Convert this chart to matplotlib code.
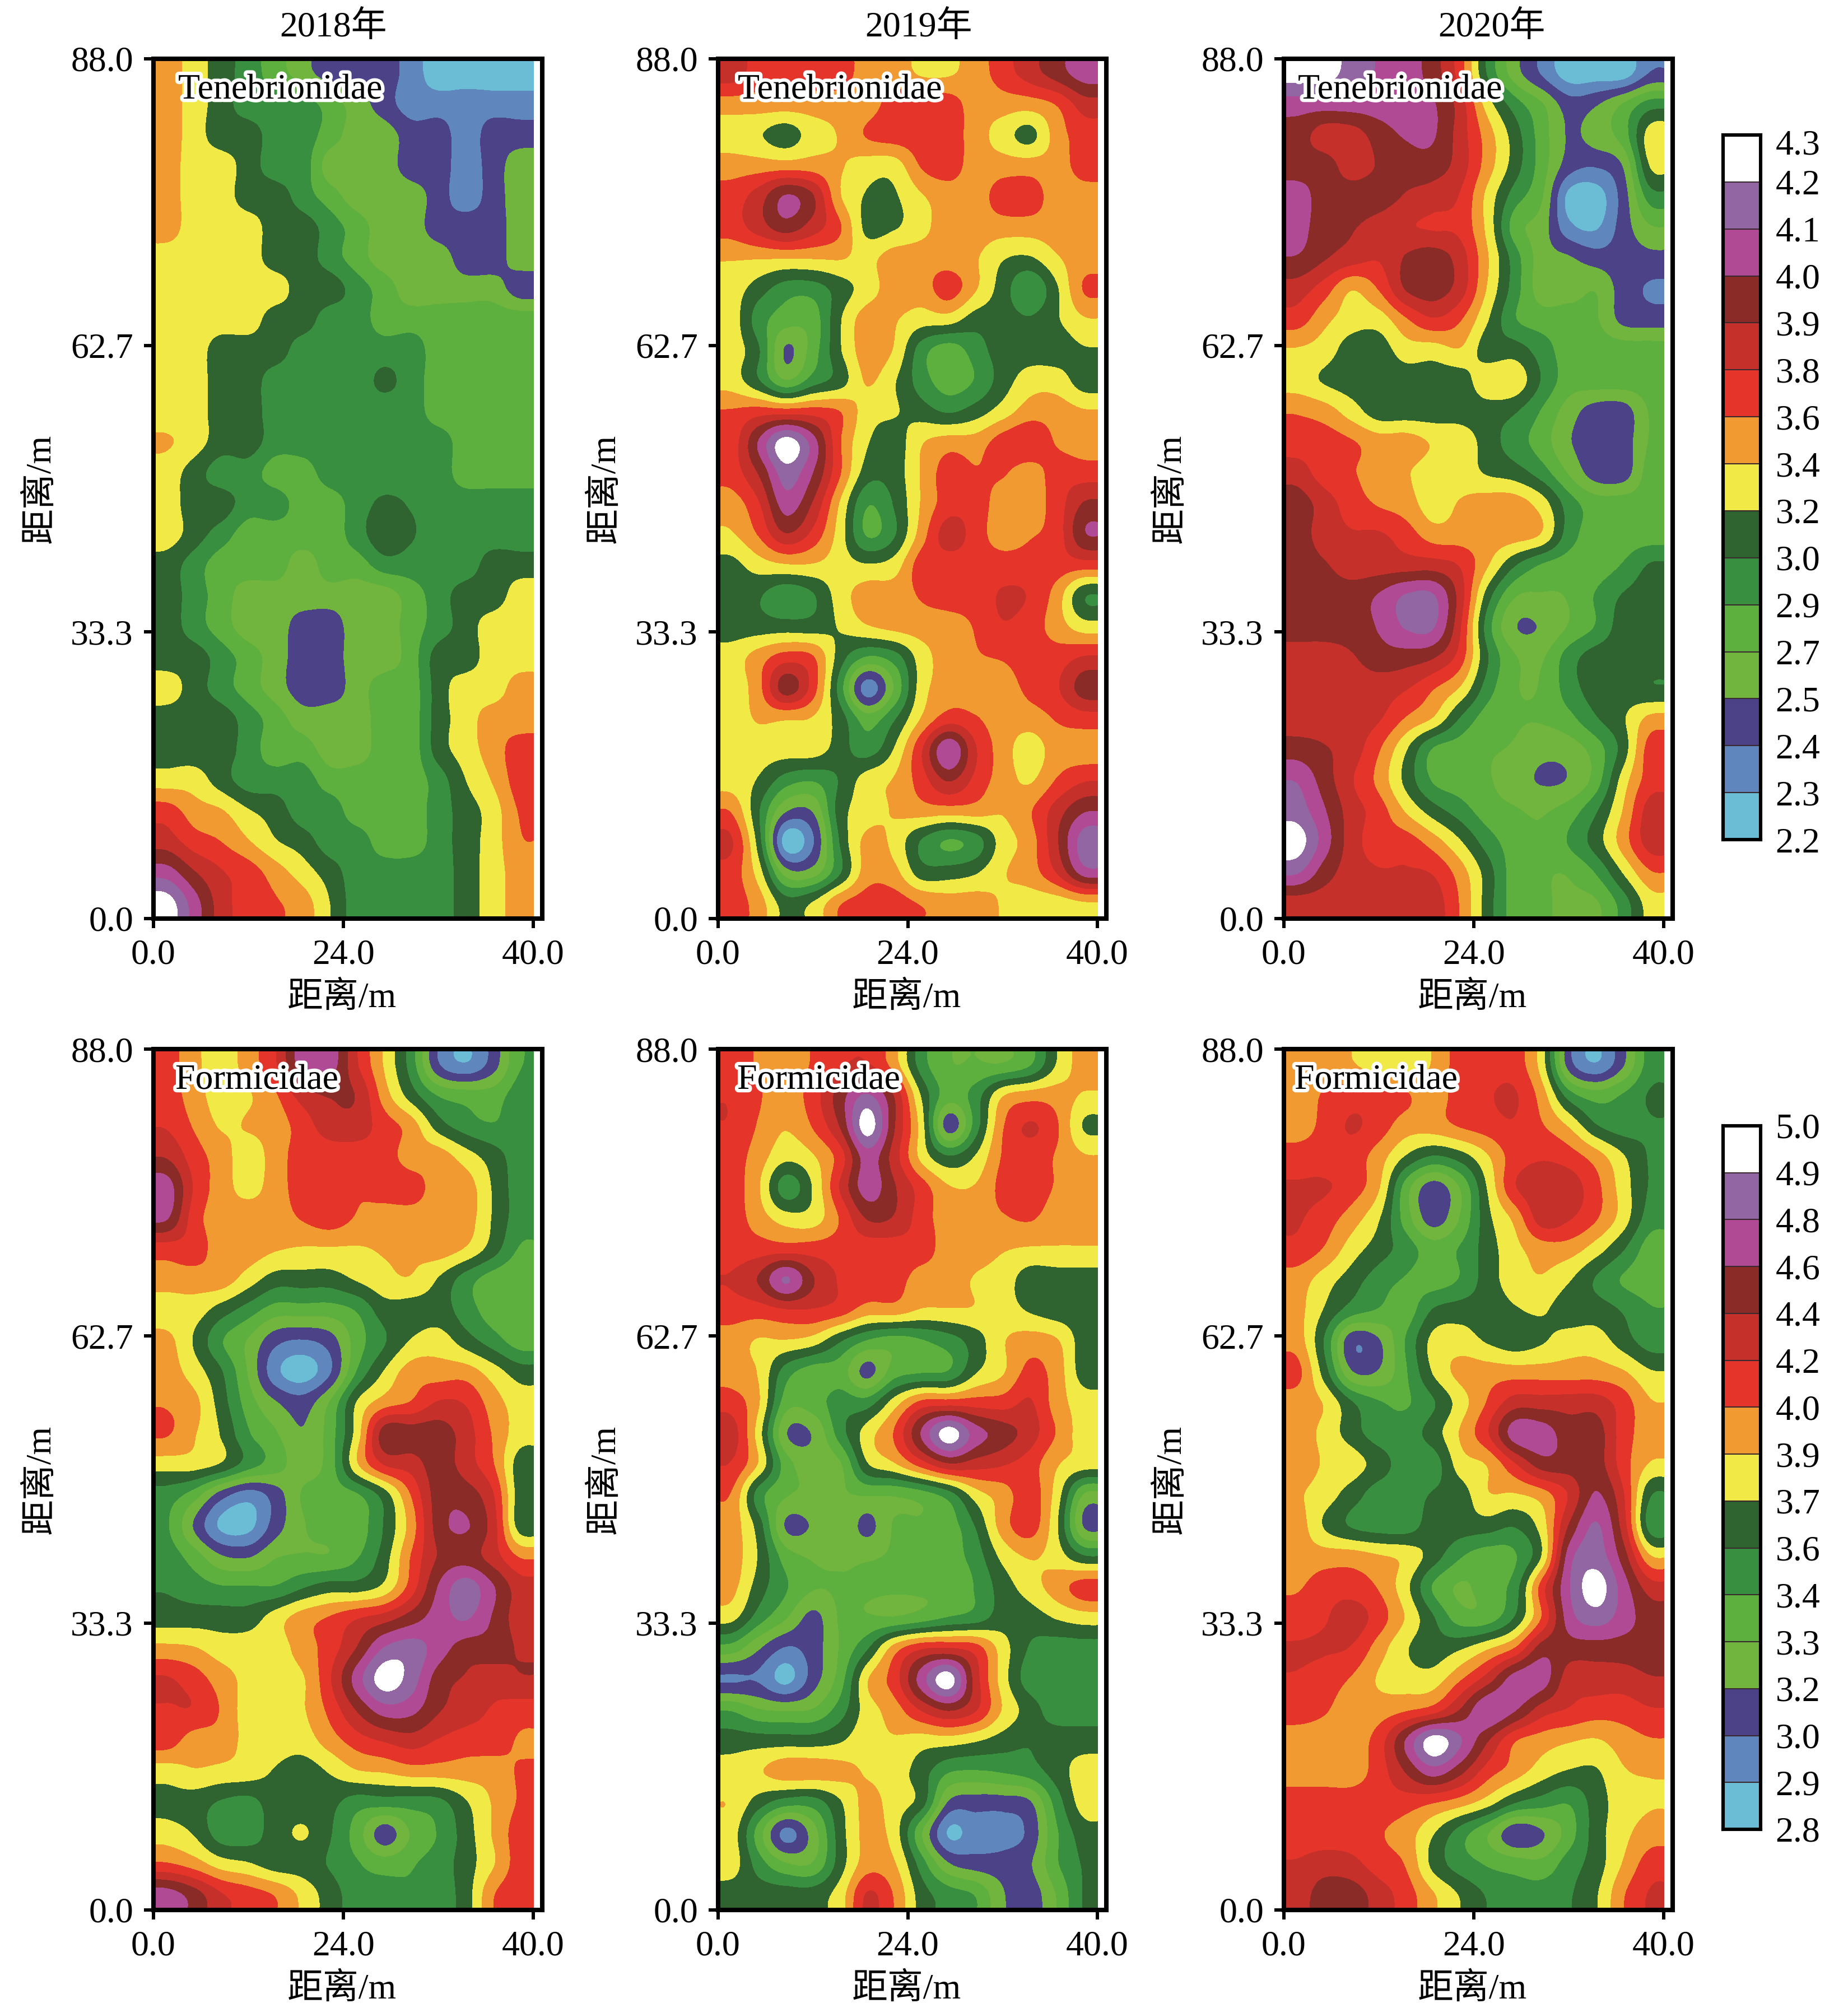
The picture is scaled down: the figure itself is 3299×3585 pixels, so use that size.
#!/usr/bin/env python3
"""Tenebrionidae / Formicidae density maps, 2018-2020, read off the published figure."""
import numpy as np
import matplotlib
matplotlib.use("Agg")
import matplotlib.pyplot as plt
import matplotlib.patheffects as pe
from matplotlib.colors import ListedColormap, BoundaryNorm

FIG_W, FIG_H = 3299, 3585
FONT = ["Liberation Serif", "Noto Sans CJK SC"]
FS = 46

# colour bands, low to high
BAND_COLORS = ["#6BBDD6", "#5F87BD", "#4C4288", "#72B53E", "#5DAF3E", "#388F3F", "#2F6330",
               "#F1E946", "#F19A31", "#E5352B", "#C5302B", "#8B2B27", "#B04A94", "#9265A3", "#FFFFFF"]

TEN_TICKS = ["2.2", "2.3", "2.4", "2.5", "2.7", "2.9", "3.0", "3.2", "3.4", "3.6", "3.8", "3.9", "4.0", "4.1", "4.2", "4.3"]
FOR_TICKS = ["2.8", "2.9", "3.0", "3.2", "3.3", "3.4", "3.6", "3.7", "3.9", "4.0", "4.2", "4.4", "4.6", "4.8", "4.9", "5.0"]
YEARS = ["2018年", "2019年", "2020年"]
X_TICK_LABELS = ["0.0", "24.0", "40.0"]
Y_TICK_LABELS = ["0.0", "33.3", "62.7", "88.0"]

# grids hold position on the colour scale (band number), top row first
TEN_2018 = [
    [8, 7, 6, 5, 4, 3, 2, 2, 2, 1, 0, 0, 0, 0],
    [8, 7, 6, 5, 5, 5, 4, 3, 2, 1, 1, 1, 1, 1],
    [8, 7, 6, 6, 5, 5, 4, 3, 3, 2, 2, 1, 2, 2],
    [8, 7, 7, 6, 5, 5, 3, 3, 3, 2, 2, 1, 2, 3],
    [8, 7, 7, 6, 6, 5, 4, 3, 3, 3, 2, 1, 2, 3],
    [8, 7, 7, 7, 6, 6, 5, 4, 3, 3, 2, 2, 2, 3],
    [7, 7, 7, 7, 6, 6, 5, 4, 3, 3, 3, 2, 2, 3],
    [7, 7, 7, 7, 7, 6, 6, 5, 4, 3, 3, 3, 3, 2],
    [7, 7, 7, 7, 6, 6, 5, 5, 4, 4, 4, 4, 4, 4],
    [7, 7, 6, 6, 6, 5, 5, 5, 5, 5, 4, 4, 4, 4],
    [7, 7, 6, 6, 5, 5, 5, 5, 5.7, 5, 4, 4, 4, 4],
    [7, 7, 6, 6, 5, 5, 5, 5, 5, 5, 4, 4, 4, 4],
    [7.6, 7, 6, 6, 5, 5, 5, 5, 5, 5, 5, 4, 4, 4],
    [7, 6, 5, 5, 4, 4, 5, 5, 5, 5, 5, 4, 4, 4],
    [7, 6, 6, 5, 5, 4, 4, 5, 5.7, 5.4, 5, 5, 5, 5],
    [7, 6, 5, 4, 4, 4, 4, 5, 6.2, 5.6, 5, 5, 5, 5],
    [6, 5, 4, 4, 4, 3, 4, 4, 5, 5, 5, 5, 6, 6],
    [6, 5, 4, 3, 3, 3, 3, 3, 3, 4, 5, 6, 6, 7],
    [6, 5, 4, 3, 3, 2, 2, 3, 3, 4, 5, 6, 7, 7],
    [6, 6, 5, 4, 3, 2, 2, 3, 3, 4, 6, 6, 7, 7],
    [7, 6, 5, 4, 3, 2, 2, 3, 4, 4, 6, 7, 7, 8],
    [6, 6, 6, 5, 4, 3, 3, 3, 4, 4, 6, 7, 8, 8],
    [6, 6, 6, 5, 4, 4, 3, 3, 4, 4, 6, 7, 8, 9],
    [7, 7, 6, 5, 5, 5, 4, 4, 4, 4, 5, 6.5, 7.6, 9],
    [9, 8, 7.6, 6.6, 6, 5, 5, 4, 4, 4, 5, 6, 7, 8.6],
    [10, 9, 8.5, 7.6, 6.6, 6, 5, 5, 4, 4, 5, 6, 7, 8.4],
    [12, 10.6, 9.6, 9, 8, 7, 6, 5, 5, 5, 5, 6, 7, 8],
    [14, 12, 10, 9, 8.6, 8, 6.5, 5, 5, 5, 5, 6, 7, 8],
]
TEN_2019 = [
    [10, 9, 9, 9, 9, 8, 8, 7.4, 7.4, 8, 9, 10, 11, 12],
    [8, 8, 8, 8, 8, 8, 9, 9, 9, 8, 8, 8, 8.6, 10],
    [7, 6.6, 6, 7, 7.6, 8.6, 9, 9, 9, 8, 7, 6.2, 8, 9],
    [8, 8, 8, 8, 7.6, 7, 7, 8.6, 9, 8, 8, 8, 8, 9],
    [9, 10, 11.6, 10.6, 7.6, 6.4, 6.4, 7.4, 8, 8, 9, 9, 8, 8],
    [9, 10, 11, 10, 8.6, 6.2, 6.4, 7.2, 8, 8, 8, 8, 8, 8],
    [7.6, 7.6, 7.6, 7.6, 7.6, 7.2, 8, 8, 8, 7.6, 6.6, 6.4, 7.4, 8],
    [7, 6, 5, 5, 6, 7, 8, 8, 9, 7.6, 6, 4.6, 6.4, 8.6],
    [7, 5, 4, 4, 6.4, 8, 7.6, 7, 7, 6, 6, 5.6, 6.4, 7.4],
    [7, 5.6, 2.4, 4, 6.4, 8, 7.4, 5, 4, 5, 6, 6, 6, 6.4],
    [7, 5.6, 3.6, 5, 6, 7.6, 6.6, 5, 4, 4.6, 6, 7, 7, 6],
    [8.6, 9, 9, 9, 8.5, 7, 6.6, 6, 5.4, 6, 7, 8, 8, 7.6],
    [9, 11.6, 14, 12, 8.6, 6.6, 6, 7.4, 8, 8, 9, 9.4, 8.4, 8],
    [9, 10.6, 13, 11.5, 8.6, 6, 6, 7.6, 9, 8.6, 8.6, 8, 9, 9],
    [8, 9.4, 12, 10.4, 7.4, 4.6, 5.6, 7.6, 9, 9, 8, 8, 9, 10.6],
    [7.4, 8.6, 10.4, 9.2, 7, 4.4, 5.4, 8, 10, 9, 8, 8.4, 9, 11.4],
    [6.2, 7, 7.4, 7.4, 7, 6.6, 7, 9, 9, 9, 9, 9, 9, 9],
    [6, 5.6, 4.8, 5.4, 7, 8, 8, 8.6, 9, 9, 9.6, 9.4, 8, 5.6],
    [6, 6, 6, 6, 6.6, 7.4, 7.8, 8, 8, 8.6, 9.4, 9, 8, 7],
    [7, 8, 9, 8.6, 6, 4.4, 5, 7, 8, 8.4, 8.6, 9, 9, 9.6],
    [6.8, 8.2, 11, 9, 5, 1, 3.6, 7, 8, 8, 8, 8.8, 9.4, 11],
    [7, 7.6, 7.6, 7.4, 6, 4, 5.4, 7.6, 9, 8.6, 8, 8, 8.6, 9],
    [7, 7, 7, 7, 6, 5, 6.6, 9.4, 12.4, 9.6, 8, 7, 8, 8],
    [7, 6.4, 5, 4.6, 5.6, 7, 7.6, 9, 10.6, 9.2, 8, 7.4, 8.6, 9.4],
    [8.4, 5.6, 2.6, 2.6, 6, 7, 7.6, 8, 8, 8, 7.6, 8.4, 10, 11.4],
    [9.6, 6, 0, 1.4, 5.6, 7.8, 7.2, 5.4, 4.4, 5, 7, 8, 10.4, 13],
    [9, 7, 3, 3, 5.4, 8, 7.8, 6, 6, 6.4, 7.4, 8, 9.6, 12],
    [9, 8, 6, 6.6, 8.4, 9, 9, 8.4, 8, 8, 7.4, 7, 7, 7.4],
]
TEN_2020 = [
    [14, 14, 13, 12.4, 12, 11, 9, 5.4, 3, 1.4, 0, 0, 0, 1.6],
    [12, 12, 12, 12, 12, 11.6, 10, 7, 5, 3.6, 2, 2.4, 3.6, 5],
    [11, 10, 10, 11, 11.6, 11.6, 10, 8, 6, 4, 2.4, 3, 4, 7],
    [11, 11, 10, 10.6, 11, 11, 10, 8, 6, 4, 2, 1.6, 2.6, 6.6],
    [12, 11, 11, 11, 10.4, 10, 9.4, 7.2, 5, 3.6, 0.2, 0, 2, 5],
    [12, 10.8, 10.6, 10, 9.6, 9.4, 9.2, 7.2, 4, 3, 0.8, 0.4, 2, 3.4],
    [11.4, 10.6, 10, 9.6, 10.6, 11, 10, 7.6, 5, 3, 2.6, 2, 2, 2.2],
    [10, 9, 7.6, 8.6, 10.6, 11, 10, 7.4, 5, 3, 3, 3.4, 2, 1.4],
    [9, 7.8, 7, 7, 8.4, 9.4, 8.6, 6.6, 4.6, 4, 4, 3.6, 2.2, 2],
    [7.4, 7, 6, 6, 7, 7, 7.4, 6, 6, 5, 4, 4, 4, 4],
    [7, 6.4, 6, 6, 6, 6, 6, 7.2, 7.2, 5.4, 4, 4, 4, 4],
    [8.4, 8, 7, 6, 6, 6, 6, 6, 5.6, 4.4, 3, 2, 2, 3.6],
    [9, 9, 8.6, 8, 8, 7.4, 7.2, 6, 5, 4, 2.6, 2, 2, 3.6],
    [10, 9, 8.6, 8, 7.6, 7, 7, 6.4, 6, 5, 3.4, 2, 2, 4],
    [11, 10, 9, 8.4, 8, 7, 7.6, 8, 8, 7, 5, 4, 4, 4],
    [11, 10, 9.6, 9.6, 9, 8, 8, 8, 8, 7.4, 5, 4, 4, 4],
    [11, 10.6, 10, 10, 10, 10, 9.4, 7.6, 5.6, 4.4, 4, 4, 4.6, 5.6],
    [11, 11, 11, 11.6, 12.6, 12.6, 10, 6, 3.6, 3.4, 3.6, 4.6, 5.6, 6],
    [11, 11, 11, 11.6, 12.6, 12.6, 9.6, 5, 2.6, 2.6, 3.6, 4.6, 6, 6],
    [10, 10, 10.4, 11, 11, 10.6, 9, 5.6, 3.6, 3.4, 5, 6, 6, 6],
    [10, 10, 10, 10, 9.6, 8.6, 7.4, 5, 3.6, 3.6, 5, 6, 6, 5.6],
    [10, 10, 10, 9.6, 8.4, 7.4, 5.4, 4, 3.6, 3.6, 4.2, 5.4, 6.4, 7.8],
    [11, 10.6, 10, 8.6, 6.6, 4.4, 4, 3.6, 3.4, 2.8, 3, 4, 6, 9],
    [12.4, 11, 9.6, 8.2, 6.2, 4.4, 4, 3.6, 3, 2.4, 2.6, 4, 7, 9],
    [13, 11.6, 10, 9, 7.4, 6, 5, 4, 3.6, 3.4, 4, 5.4, 7.6, 10],
    [14, 12, 10, 9, 9, 8, 6.6, 5, 4, 3.6, 4.6, 6, 8, 10],
    [12.6, 11, 10, 9.6, 9.6, 9.4, 8, 6, 4, 3.6, 3.6, 4.6, 6.6, 8.4],
    [10, 10, 10, 10, 10, 10, 8.4, 6, 4, 3.6, 3.4, 3.4, 5, 7],
]
FOR_2018 = [
    [9, 7.8, 7, 8, 9.4, 12, 12, 9.6, 7.4, 5, 1.6, 0.6, 2, 4.4],
    [9, 8, 7, 7.4, 8.4, 10, 10.6, 10.4, 8, 6, 4.4, 4, 4, 5],
    [9.4, 8.4, 7.4, 7.6, 8, 9, 10, 10, 9, 8, 6, 5, 4.6, 5],
    [10.4, 9, 8, 7, 8, 9, 9, 9, 9, 8, 8, 7, 6, 5],
    [12, 9.4, 8, 7.2, 8, 9, 9, 8.6, 9, 9, 8, 8, 6.4, 5],
    [11.6, 9, 8, 8, 8, 8.6, 9, 8.4, 8, 8, 8, 8, 6.4, 5],
    [9, 9, 8, 8, 7.6, 7.4, 7.4, 7.4, 7.6, 7.6, 8, 7.4, 6, 4.4],
    [8, 8, 8, 7, 6, 6, 6, 6.6, 7.2, 7.4, 6.4, 5, 4, 3.6],
    [7, 7, 6, 5, 4, 4, 4, 4.6, 6, 6, 6, 5, 4, 3.6],
    [7.8, 6.4, 4.6, 3.4, 1.8, 1.4, 2, 4, 5.4, 6.6, 7, 6, 5, 4],
    [8, 7, 5.6, 3.4, 0.8, 0, 1.4, 4.6, 6.6, 8, 8, 8, 7, 6],
    [8.4, 7.8, 6, 4, 2.6, 2, 3.6, 6.6, 8, 8.6, 9.6, 9.4, 8, 7],
    [8.6, 7.6, 6.4, 4.6, 3.6, 2.6, 4, 7, 11, 11, 11, 10, 8.4, 7],
    [7, 7, 6.4, 5, 4, 3, 4, 7.4, 9.6, 10, 11, 10, 8.6, 6],
    [5, 4, 2, 1, 2, 3.6, 4, 4.4, 6, 8.6, 11, 11, 9.6, 6],
    [4.6, 2.4, 0.3, 0.2, 2, 3.4, 4, 4, 5.6, 8, 11, 11.6, 10, 6],
    [5, 4, 2.6, 2.4, 3.4, 3.6, 3.6, 4.4, 6, 8.6, 10.6, 11, 10, 8.4],
    [5.4, 5, 4.6, 4.6, 4.6, 5.4, 6, 6, 6.8, 9, 11.6, 13, 11.6, 10],
    [6, 6, 6, 6, 7, 8, 8.6, 9.4, 10, 11, 12, 12.6, 11.4, 10],
    [7.8, 7.6, 7, 7, 7, 8, 9, 10.6, 12.6, 13, 12, 11, 11, 10.4],
    [9.6, 9, 8, 7.2, 7, 7.4, 9.4, 12, 14, 13, 11, 10.4, 10, 10.4],
    [9.4, 9.4, 8.4, 7, 7, 7.4, 8.8, 10.6, 12, 11.8, 10.6, 10, 9.4, 9],
    [9, 8, 8, 7.2, 7, 7, 8, 9, 9.6, 10, 9.4, 9, 9, 8.4],
    [7, 7.4, 7.2, 7, 6.4, 6, 6.6, 7.4, 7.6, 8, 8, 8, 8, 8.6],
    [6.2, 6, 5.4, 5.2, 6, 6, 5.8, 5, 5, 5, 5.2, 6.4, 7.6, 8.6],
    [7, 6.4, 5, 5, 6, 6.6, 5.6, 4, 2, 3.6, 4.6, 6, 7.6, 9],
    [8.6, 8, 7, 6.6, 6, 6, 5.4, 4.6, 4, 4.4, 5, 6, 7.4, 9],
    [12, 11, 9.6, 9, 8.4, 7.2, 6, 5, 5, 4.6, 5, 6, 8.4, 9.2],
]
FOR_2019 = [
    [9, 8.4, 8, 8.6, 9.4, 9.6, 8, 5, 3.6, 3.6, 3.6, 4.4, 6.6, 8],
    [9.4, 8.6, 8, 9, 11, 12.6, 10.4, 6.4, 4, 5, 7.4, 8, 8, 7.4],
    [9.4, 8.4, 7.6, 8.6, 10.6, 14, 10.6, 7, 2, 5, 8.4, 9.6, 8.6, 6.4],
    [9, 8, 6.8, 7.4, 9, 12, 10, 7.2, 5.6, 6.6, 8.6, 9, 8.4, 7.6],
    [9, 7.6, 5, 6.6, 9.6, 12, 10.6, 9, 7.6, 7.6, 8.8, 9, 8.4, 8],
    [9, 8, 7, 7, 8.6, 10.6, 10.4, 9, 8, 8, 8.4, 8.6, 8, 8],
    [9, 9, 9, 9, 9, 9, 9, 9, 8, 8, 7.6, 7.4, 7.4, 7.4],
    [9.6, 10.6, 12.6, 10.6, 9.4, 9.2, 9, 8, 8, 7.4, 7, 6, 6, 6],
    [9, 9, 9.4, 9.4, 9, 8, 8, 7.4, 7.4, 7.4, 7, 6.4, 6, 6],
    [8, 7.4, 7.4, 7, 5.6, 4.4, 4, 4.4, 5, 6, 7.4, 8, 7.6, 6],
    [8, 7.4, 5, 4, 4, 2.2, 4, 4.4, 4.6, 6.4, 7.4, 8.8, 8, 6],
    [9, 7.6, 4, 4, 5, 5, 7, 8.8, 9, 9, 9, 9.6, 8, 7],
    [10, 7, 2.6, 2.6, 5, 7, 8.6, 11.6, 14, 12, 11, 10, 8.4, 7],
    [9.4, 7.4, 4, 3, 3.4, 6.4, 7.4, 9, 10.4, 10, 9.6, 9, 7.6, 7],
    [8.4, 5, 3.6, 3.4, 3.4, 3.6, 3.6, 4, 5, 7, 8, 9, 7, 3.4],
    [8, 6, 2.4, 2.6, 3.4, 2.2, 3.6, 3.6, 4, 5.6, 8, 9, 6.6, 2.4],
    [8, 6.4, 4, 3.4, 3.4, 3.4, 3.6, 3.8, 4, 5, 6.8, 7.6, 7, 5.6],
    [7.8, 6, 4.6, 3.6, 3.6, 3.6, 3.6, 3.6, 3.6, 4.6, 6, 7, 8, 9],
    [6.8, 5, 3.6, 2.2, 3.6, 3.6, 3.6, 4, 4.6, 5, 6, 6, 6.6, 7],
    [4, 2.6, 1.4, 2, 3.6, 5.4, 8, 9.4, 9.6, 9, 7, 5.4, 5, 5],
    [1.4, 1.4, 0.2, 2, 4, 7.4, 9, 12, 14, 10, 7, 5, 5, 4.6],
    [4.4, 3.6, 3.4, 3.6, 5, 7, 8, 9.6, 10.6, 9.6, 7.4, 6, 5, 5],
    [6, 6, 6, 6, 6.4, 7.2, 7.4, 7, 7, 6.6, 6, 5.6, 6, 6],
    [7, 7.4, 8, 8, 7.8, 7.4, 7, 6, 4.6, 4.4, 4.6, 5, 6, 7],
    [7.4, 6, 5, 5, 6.4, 7.8, 7, 6, 2.4, 2, 2, 2.4, 5, 7],
    [7, 4, 1.2, 3, 6, 7.8, 7, 3.6, 0.4, 1, 1, 1.8, 4.4, 6],
    [7, 5, 3.6, 3.6, 6, 8, 7.6, 5, 2.6, 2, 2, 2.4, 4.4, 5.6],
    [6, 6, 6, 6, 7, 9.6, 8.4, 6, 5, 4.4, 2.6, 2, 3.6, 5.6],
]
FOR_2020 = [
    [8, 8, 7.6, 7, 7, 7.6, 9, 9, 9, 7, 2, 0.6, 2.4, 5],
    [8, 8.6, 9, 9, 8.6, 8, 9, 9.4, 9.6, 8, 5, 4, 4.6, 5.6],
    [8, 8.8, 9.6, 9, 8, 8, 8.6, 9, 9.4, 8.6, 7.4, 5.6, 5, 5.4],
    [9, 9, 9, 8, 6.4, 5.4, 6, 7.4, 9, 9.4, 9, 8, 6.6, 5.4],
    [9.6, 9.6, 9, 7.6, 4, 2, 3.6, 6.6, 9.4, 10, 10, 8.8, 7, 5.4],
    [9.6, 9, 8, 6.6, 4, 2, 3.6, 6.2, 7.8, 10, 9.6, 8.6, 7, 5],
    [9.2, 8.4, 7, 6, 5, 4, 4.6, 6, 7.2, 8, 8, 7, 5.6, 4],
    [8, 7, 6, 5, 4.4, 4, 4.6, 6, 7, 7.4, 6.6, 5.4, 4.4, 4],
    [7.8, 6.4, 5, 4.4, 4, 5.6, 6, 6, 6.4, 6.6, 6, 6, 5.4, 4.6],
    [8, 5.4, 1.8, 2.4, 4.6, 6.8, 7, 6.4, 6, 6.4, 7, 7, 6, 5],
    [8.8, 6, 2.6, 2.6, 4.4, 6.6, 7.8, 8, 8, 8, 8, 8, 7.6, 6.6],
    [8, 7.4, 5.6, 4.6, 4.4, 5.4, 7, 8.6, 10, 10, 10, 10, 9, 7.6],
    [8, 7.2, 6, 5, 5, 6, 7.6, 9.4, 12, 12, 11, 11, 9, 8],
    [8, 7.4, 7, 6, 5, 5, 7, 7.6, 9.4, 11, 11, 11, 9, 7.4],
    [7.6, 7, 6, 5, 5, 5.6, 6, 7.4, 7.4, 8, 9.6, 11.6, 9.6, 5.6],
    [8, 6.4, 5.4, 5, 5, 6, 6, 6, 5.6, 7, 10.6, 12.6, 10, 5],
    [8, 8, 8, 7.6, 7.2, 6, 4.6, 4, 4.4, 6.6, 12, 13, 11, 7.6],
    [8.4, 9, 9, 8.4, 6.8, 4.4, 3.4, 4, 5, 9, 12.4, 14, 12, 10],
    [9, 9.4, 10, 9, 7.4, 5.6, 4, 4, 5.6, 8.6, 12, 13, 12, 11],
    [9.6, 9.6, 9.4, 8, 6.6, 6, 6.4, 7.4, 8.6, 11, 11, 11, 11, 11],
    [9.4, 9, 8.4, 7.4, 7, 7, 8.4, 10, 12, 12, 10, 10, 10, 10.4],
    [9, 8.6, 8, 8, 8.4, 9, 10.6, 12.4, 11.6, 10, 9.4, 9, 9, 9.4],
    [8, 8, 8, 9, 11.6, 14, 12.6, 10.6, 8.6, 8, 7.6, 7.4, 8, 8.4],
    [8, 8, 8, 9, 10.6, 12, 10.8, 9, 8, 7, 6.4, 6.4, 7.4, 7.6],
    [9, 9, 9, 9, 9, 8.6, 8, 7, 5.6, 5, 4.6, 6, 7, 7.4],
    [9, 9, 9, 8.6, 8, 6.6, 5, 3.6, 1.8, 2.4, 4, 6, 7.2, 8],
    [9.6, 10, 9.8, 9, 8.4, 6.2, 5, 4.4, 4, 3.8, 5, 6, 7.6, 9],
    [10, 11, 11, 10, 9, 7.6, 6.4, 5.4, 5, 5, 5.4, 6.4, 8.4, 9.6],
]

plt.rcParams["font.family"] = FONT
plt.rcParams["font.size"] = FS

cmap = ListedColormap(BAND_COLORS)
norm = BoundaryNorm(np.arange(len(BAND_COLORS) + 1) - 0.5, cmap.N)


def px_axes(fig, left, top, right, bottom):
    return fig.add_axes([left / FIG_W, 1 - bottom / FIG_H, (right - left) / FIG_W, (bottom - top) / FIG_H])


def draw_panel(fig, box, grid, name, name_x):
    left, top, right, bottom = box
    ax = px_axes(fig, left, top, right, bottom)
    z = np.array(grid, dtype=float)
    # one repeated cell round the edge so the smoothing does not fade at the border
    dx, dy = 40 / z.shape[1], 88 / z.shape[0]
    z = np.pad(z, 1, mode="edge")
    im = ax.imshow(z, cmap=cmap, norm=norm, interpolation="catrom", interpolation_stage="data",
                   extent=(-dx, 40 + dx, -dy, 88 + dy), origin="upper", aspect="auto")
    clip = plt.Rectangle((0, 0), 40, 88, transform=ax.transData)
    im.set_clip_path(clip)
    ax.set_xlim(0, 40.94)
    ax.set_ylim(0, 88)
    ax.set_xticks([0, 20, 40], X_TICK_LABELS)
    ax.set_yticks([0, 88 / 3, 176 / 3, 88], Y_TICK_LABELS)
    ax.tick_params(length=12, width=4.3, pad=14)
    for s in ax.spines.values():
        s.set_linewidth(5.8)
    ax.set_xlabel("距离/m", fontsize=FS)
    ax.xaxis.set_label_coords(0.485, -0.073)
    ax.set_ylabel("距离/m", fontsize=FS)
    ax.yaxis.set_label_coords(-0.247, 0.5)
    ax.text((name_x - left) / (right - left), 1 - 56 / (bottom - top), name, transform=ax.transAxes,
            ha="left", va="center", fontsize=FS, zorder=5,
            path_effects=[pe.withStroke(linewidth=9, foreground="white")])
    return ax


def draw_scale(fig, box, labels, top_tick):
    ax = px_axes(fig, *box)
    y = np.arange(len(BAND_COLORS) + 1)
    bands = np.arange(len(BAND_COLORS)).reshape(-1, 1)
    ax.pcolormesh([0, 1], y, bands, cmap=cmap, norm=norm)
    ax.hlines(y[1:-1], 0, 1, color="#3a2a30", linewidth=1.5)
    ax.set_xlim(0, 1)
    ax.set_ylim(0, y[-1])
    ax.set_xticks([])
    ticks = list(y[:-1]) + [top_tick]
    ax.yaxis.tick_right()
    ax.set_yticks(ticks, labels)
    ax.tick_params(axis="y", length=0, pad=19)
    for s in ax.spines.values():
        s.set_linewidth(4.4)


fig = plt.figure(figsize=(FIG_W / 100, FIG_H / 100), dpi=100, facecolor="white")

COLS = [(274, 968), (1282, 1975), (2292, 2986)]
ROWS = [(105, 1640), (1873, 3410)]
TITLE_X = [595, 1640, 2663]
NAME_X = [[318, 1317, 2317], [313, 1316, 2311]]
PANELS = [[TEN_2018, TEN_2019, TEN_2020], [FOR_2018, FOR_2019, FOR_2020]]
NAMES = ["Tenebrionidae", "Formicidae"]

for r, (top, bottom) in enumerate(ROWS):
    for c, (left, right) in enumerate(COLS):
        draw_panel(fig, (left, top, right, bottom), PANELS[r][c], NAMES[r], NAME_X[r][c])

for x, year in zip(TITLE_X, YEARS):
    fig.text(x / FIG_W, 1 - 50 / FIG_H, year, ha="center", va="center", fontsize=FS)

draw_scale(fig, (3076, 241, 3143, 1499), TEN_TICKS, 14.85)
draw_scale(fig, (3076, 2010, 3143, 3266), FOR_TICKS, 15)

fig.savefig("out.png", dpi=100, facecolor="white")
